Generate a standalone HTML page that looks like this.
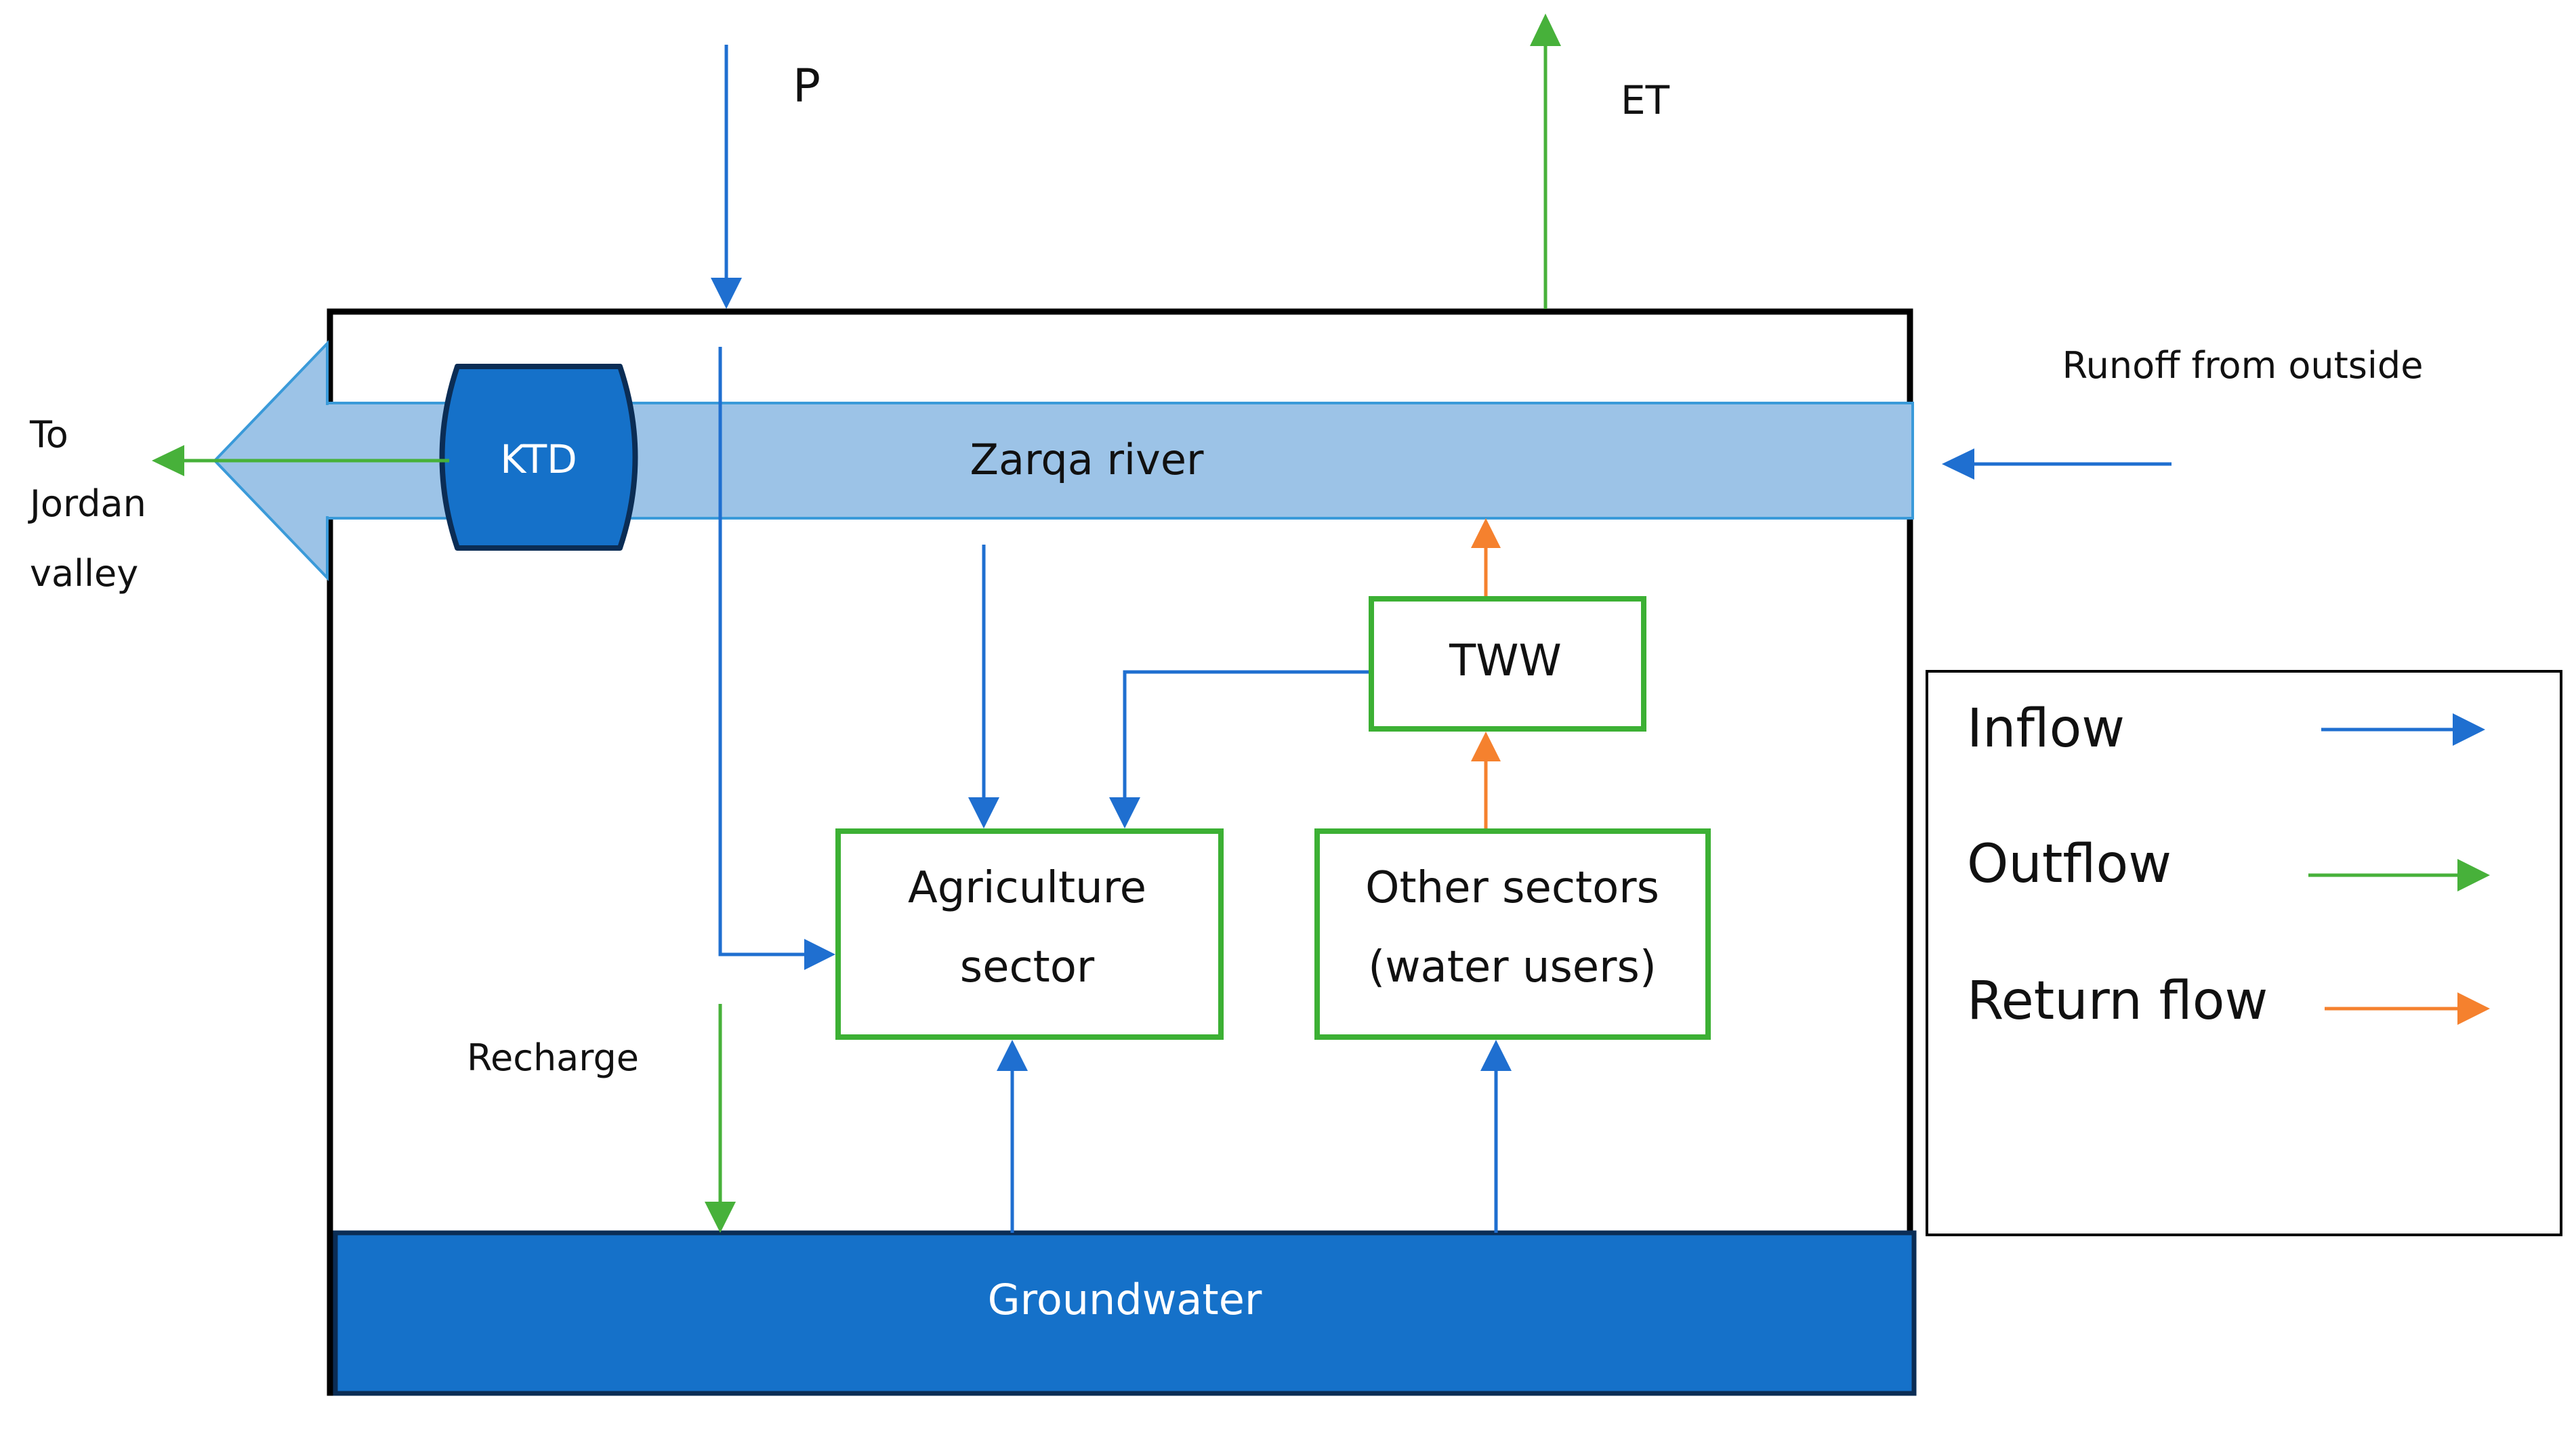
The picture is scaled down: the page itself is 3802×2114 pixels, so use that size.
<!DOCTYPE html>
<html><head><meta charset="utf-8"><style>
html,body{margin:0;padding:0;background:#fff;}
svg{display:block;}
text{font-family:"DejaVu Sans","Liberation Sans",sans-serif;}
</style></head><body>
<svg width="3802" height="2114" viewBox="0 0 3802 2114" xmlns="http://www.w3.org/2000/svg">
<defs>
<marker id="ab" markerWidth="10" markerHeight="10" refX="9" refY="5" orient="auto" markerUnits="userSpaceOnUse" viewBox="0 0 10 10"><path d="M0,0 L10,5 L0,10 z" fill="#1f6fd0"/></marker>
</defs>
<!-- main box -->
<rect x="487" y="460" width="2332" height="1596" fill="#fff" stroke="#000" stroke-width="9"/>
<!-- river band -->
<rect x="483" y="595" width="2340" height="170" fill="#9cc3e7" stroke="#3a9ad9" stroke-width="4"/>
<polygon points="483,507 317,680 483,853" fill="#9cc3e7" stroke="#3a9ad9" stroke-width="4"/>
<rect x="481" y="598" width="12" height="164" fill="#9cc3e7"/>
<!-- groundwater -->
<rect x="495" y="1820" width="2330" height="237" fill="#1571c9" stroke="#0b2d55" stroke-width="7"/>
<text x="1660" y="1940" font-size="62" fill="#fff" text-anchor="middle">Groundwater</text>
<!-- KTD -->
<path d="M675,541 L915,541 Q960,675 915,809 L675,809 Q630,675 675,541 z" fill="#1571c9" stroke="#0b2d55" stroke-width="8" stroke-linejoin="round"/>
<text x="795" y="698" font-size="58" fill="#fff" text-anchor="middle">KTD</text>
<text x="1604" y="700" font-size="62" fill="#111" text-anchor="middle">Zarqa river</text>
<!-- green to jordan -->
<line x1="663" y1="680" x2="270" y2="680" stroke="#47b13a" stroke-width="5"/>
<polygon points="224,680 272,657 272,703" fill="#47b13a"/>
<text font-size="54" fill="#111"><tspan x="44" y="660">To</tspan><tspan x="44" y="762">Jordan</tspan><tspan x="44" y="865">valley</tspan></text>
<!-- P -->
<line x1="1072" y1="66" x2="1072" y2="412" stroke="#1f6fd0" stroke-width="5"/>
<polygon points="1072,456 1049,410 1095,410" fill="#1f6fd0"/>
<text x="1170" y="150" font-size="68" fill="#111">P</text>
<!-- ET -->
<line x1="2281" y1="456" x2="2281" y2="64" stroke="#47b13a" stroke-width="5"/>
<polygon points="2281,20 2258,68 2304,68" fill="#47b13a"/>
<text x="2392" y="168" font-size="58" fill="#111">ET</text>
<!-- runoff -->
<text x="3310" y="558" font-size="54" fill="#111" text-anchor="middle">Runoff from outside</text>
<line x1="3205" y1="685" x2="2910" y2="685" stroke="#1f6fd0" stroke-width="5"/>
<polygon points="2866,685 2914,662 2914,708" fill="#1f6fd0"/>
<!-- P line to agri -->
<polyline points="1063,512 1063,1409 1190,1409" fill="none" stroke="#1f6fd0" stroke-width="5"/>
<polygon points="1233,1409 1187,1386 1187,1432" fill="#1f6fd0"/>
<!-- river to agri -->
<line x1="1452" y1="804" x2="1452" y2="1180" stroke="#1f6fd0" stroke-width="5"/>
<polygon points="1452,1223 1429,1177 1475,1177" fill="#1f6fd0"/>
<!-- TWW to agri -->
<polyline points="2020,992 1660,992 1660,1180" fill="none" stroke="#1f6fd0" stroke-width="5"/>
<polygon points="1660,1223 1637,1177 1683,1177" fill="#1f6fd0"/>
<!-- boxes -->
<rect x="1237" y="1227" width="565" height="304" fill="#fff" stroke="#3cb034" stroke-width="8"/>
<text x="1516" y="1332" font-size="64" fill="#111" text-anchor="middle">Agriculture</text>
<text x="1516" y="1449" font-size="64" fill="#111" text-anchor="middle">sector</text>
<rect x="1944" y="1227" width="577" height="304" fill="#fff" stroke="#3cb034" stroke-width="8"/>
<text x="2232" y="1332" font-size="64" fill="#111" text-anchor="middle">Other sectors</text>
<text x="2232" y="1449" font-size="64" fill="#111" text-anchor="middle">(water users)</text>
<rect x="2024" y="884" width="402" height="192" fill="#fff" stroke="#3cb034" stroke-width="8"/>
<text x="2222" y="997" font-size="64" fill="#111" text-anchor="middle">TWW</text>
<!-- orange -->
<line x1="2193" y1="1223" x2="2193" y2="1120" stroke="#f5812e" stroke-width="5"/>
<polygon points="2193,1080 2171,1124 2215,1124" fill="#f5812e"/>
<line x1="2193" y1="880" x2="2193" y2="805" stroke="#f5812e" stroke-width="5"/>
<polygon points="2193,765 2171,809 2215,809" fill="#f5812e"/>
<!-- recharge -->
<text x="816" y="1580" font-size="54" fill="#111" text-anchor="middle">Recharge</text>
<line x1="1063" y1="1482" x2="1063" y2="1776" stroke="#47b13a" stroke-width="5"/>
<polygon points="1063,1820 1040,1774 1086,1774" fill="#47b13a"/>
<!-- GW up -->
<line x1="1494" y1="1820" x2="1494" y2="1578" stroke="#1f6fd0" stroke-width="5"/>
<polygon points="1494,1535 1471,1581 1517,1581" fill="#1f6fd0"/>
<line x1="2208" y1="1820" x2="2208" y2="1578" stroke="#1f6fd0" stroke-width="5"/>
<polygon points="2208,1535 2185,1581 2231,1581" fill="#1f6fd0"/>
<!-- legend -->
<rect x="2844" y="991" width="936" height="832" fill="#fff" stroke="#000" stroke-width="4"/>
<text x="2903" y="1102" font-size="78" fill="#111">Inflow</text>
<line x1="3426" y1="1077" x2="3622" y2="1077" stroke="#1f6fd0" stroke-width="5"/>
<polygon points="3668,1077 3620,1053 3620,1101" fill="#1f6fd0"/>
<text x="2903" y="1302" font-size="78" fill="#111">Outflow</text>
<line x1="3407" y1="1292" x2="3630" y2="1292" stroke="#47b13a" stroke-width="5"/>
<polygon points="3675,1292 3627,1268 3627,1316" fill="#47b13a"/>
<text x="2903" y="1504" font-size="78" fill="#111">Return flow</text>
<line x1="3431" y1="1489" x2="3630" y2="1489" stroke="#f5812e" stroke-width="5"/>
<polygon points="3675,1489 3627,1465 3627,1513" fill="#f5812e"/>
</svg>
</body></html>
